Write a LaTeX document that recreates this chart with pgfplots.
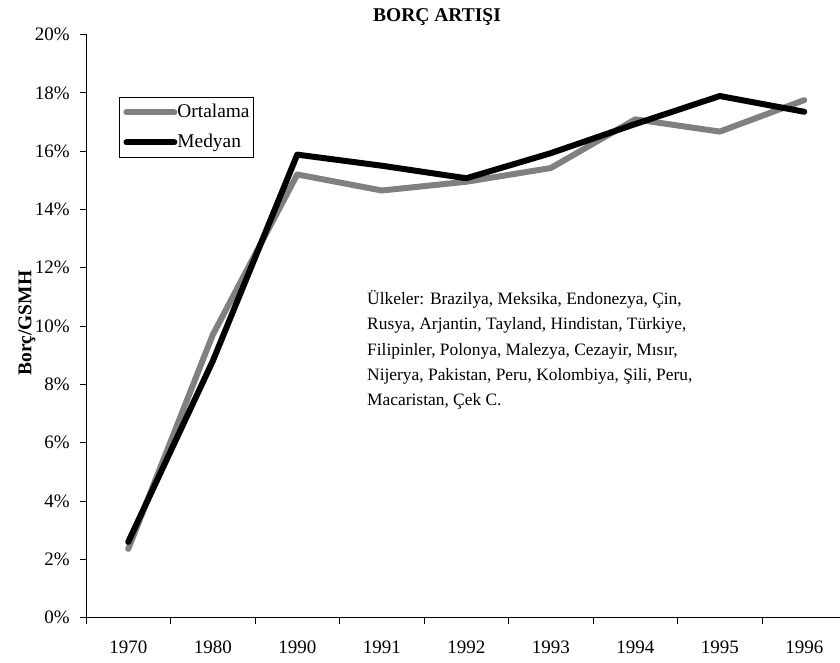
\documentclass[border=0pt]{standalone}
\usepackage{pgfplots}
\pgfplotsset{compat=1.18}
\usepackage{fontspec}
\setmainfont{Liberation Serif}
\definecolor{ortgray}{HTML}{808080}
\begin{document}
\begin{tikzpicture}
\begin{axis}[
  at={(86pt,44.3pt)}, anchor=south west,
  scale only axis, width=754pt, height=583.2pt,
  xmin=-0.5, xmax=8.423, ymin=0, ymax=20,
  axis x line*=bottom, axis y line*=left,
  axis line style={line width=0.8pt},
  tick align=outside, major tick length=6pt,
  tick style={black, line width=0.8pt},
  xtick={-0.5,0.5,...,7.5}, xticklabels={},
  extra x ticks={0,1,2,3,4,5,6,7,8},
  extra x tick labels={1970,1980,1990,1991,1992,1993,1994,1995,1996},
  extra x tick style={major tick length=0pt, xticklabel style={inner sep=0pt, anchor=north, yshift=-23pt}},
  ytick={0,2,...,20},
  yticklabels={0\%,2\%,4\%,6\%,8\%,10\%,12\%,14\%,16\%,18\%,20\%},
  yticklabel style={inner sep=0pt, anchor=east, xshift=-10pt},
  tick label style={font=\fontsize{19}{22}\selectfont},
  ylabel={\bfseries Borç/GSMH},
  ylabel style={font=\fontsize{19.5}{22}\selectfont, at={(axis description cs:-0.0782,0.505)}, anchor=center, rotate=0},
  legend style={at={(axis description cs:0.0438,0.8928)}, anchor=north west, draw=black, line width=0.8pt,
    font=\fontsize{19.4}{22}\selectfont, inner xsep=4pt, inner ysep=5pt, row sep=10pt,
    nodes={inner sep=0pt, text height=15pt, text depth=5pt}},
  legend cell align=left,
  legend image code/.code={\draw[#1, line cap=round] (2pt,0pt) -- (50pt,0pt);},
]
\addplot[color=ortgray, line width=6pt, line join=round, line cap=round]
  coordinates {(0,2.36)(1,9.7)(2,15.2)(3,14.65)(4,14.95)(5,15.42)(6,17.09)(7,16.67)(8,17.75)};
\addlegendentry{Ortalama}
\addplot[color=black, line width=6pt, line join=round, line cap=round]
  coordinates {(0,2.6)(1,8.8)(2,15.88)(3,15.5)(4,15.07)(5,15.93)(6,16.93)(7,17.89)(8,17.35)};
\addlegendentry{Medyan}
\end{axis}
\node[anchor=base, inner sep=0pt, font=\fontsize{19.5}{22}\selectfont\bfseries] at (437pt,640pt) {BORÇ ARTIŞI};
\begin{scope}[every node/.style={anchor=base west, inner sep=0pt, font=\fontsize{17.4}{20}\selectfont}]
\node at (367pt,357pt) {Ülkeler: Brazilya, Meksika, Endonezya, Çin,};
\node at (367pt,332pt) {Rusya, Arjantin, Tayland, Hindistan, Türkiye,};
\node at (367pt,307pt) {Filipinler, Polonya, Malezya, Cezayir, Mısır,};
\node at (367pt,282pt) {Nijerya, Pakistan, Peru, Kolombiya, Şili, Peru,};
\node at (367pt,257pt) {Macaristan, Çek C.};
\end{scope}
\pgfresetboundingbox
\useasboundingbox (0,0) rectangle (840pt,662pt);
\end{tikzpicture}
\end{document}
